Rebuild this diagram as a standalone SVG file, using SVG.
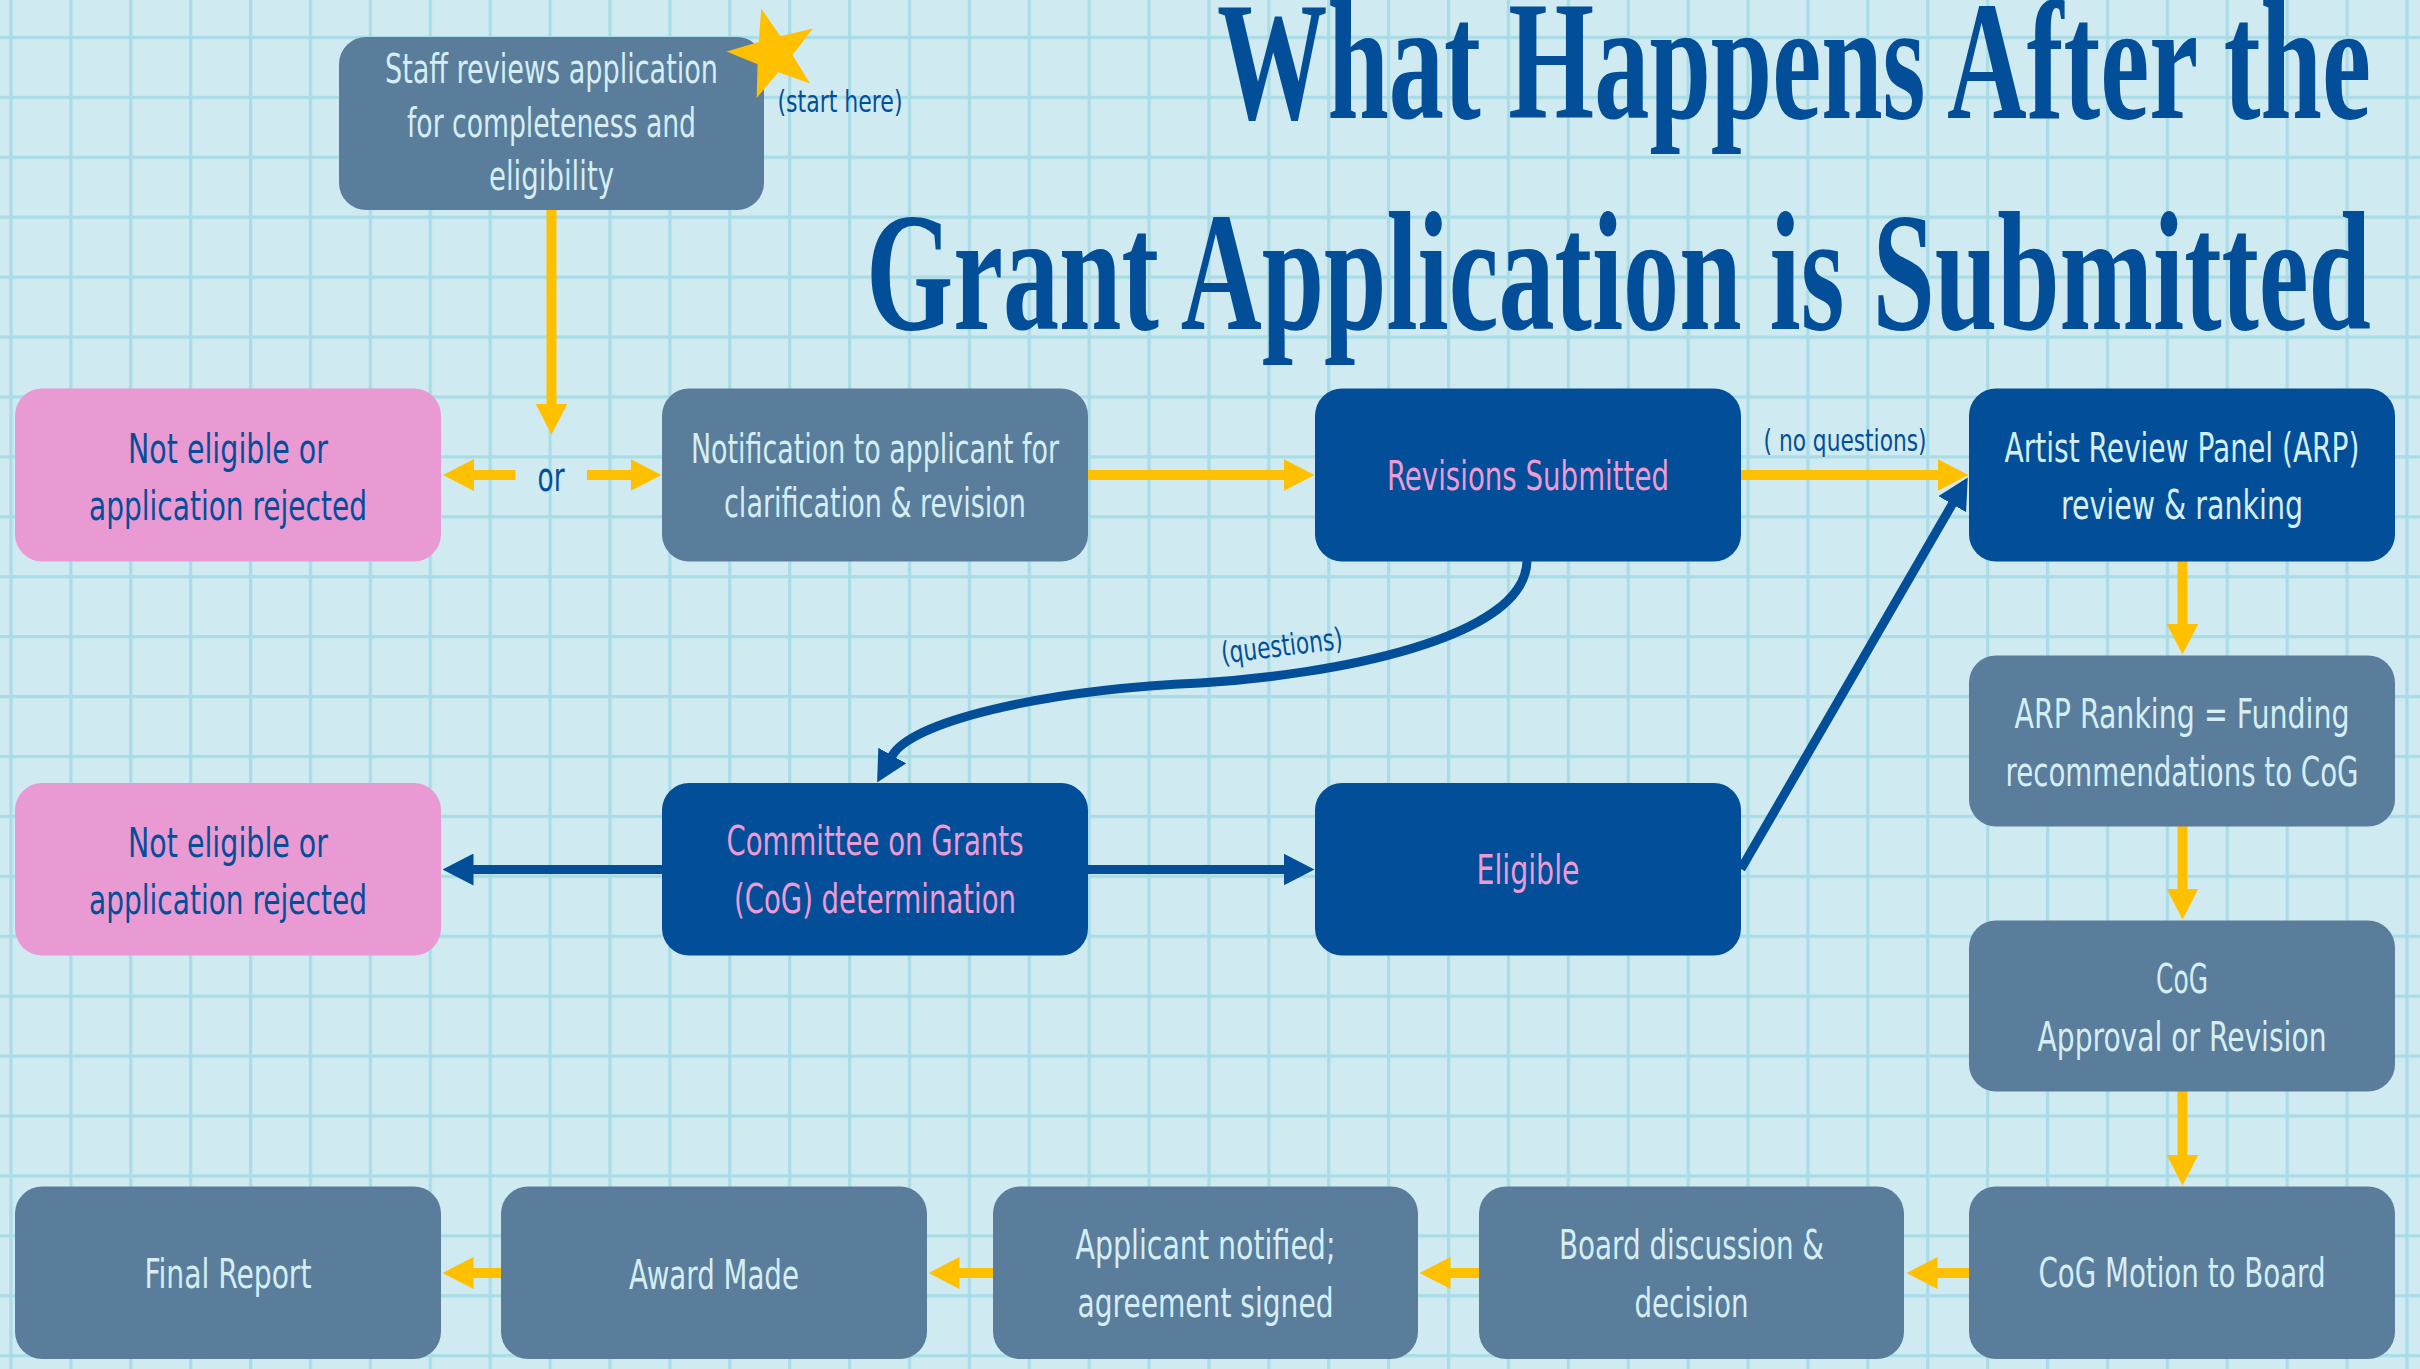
<svg xmlns="http://www.w3.org/2000/svg" width="2420" height="1369" viewBox="0 0 2420 1369">
<style>
.t{font-family:"Liberation Sans Narrow","DejaVu Sans Condensed","Liberation Sans",sans-serif;font-size:40px;text-anchor:middle}
.lt{fill:#d4eef3}
.dk{fill:#034e98}
.pk{fill:#ec9bd4}
.slate{fill:#5a7d9c}
.navy{fill:#034e98}
.pinkbox{fill:#e99ad2}
.lab{font-family:"Liberation Sans Narrow","DejaVu Sans Condensed","Liberation Sans",sans-serif;font-size:30px;fill:#034e98;text-anchor:middle}
.yl{stroke:#ffc000;stroke-width:10;fill:none}
.bl{stroke:#034e98;stroke-width:9;fill:none}
.title{font-family:"Liberation Serif","DejaVu Serif",serif;font-weight:bold;font-size:170px;fill:#034e98}
</style>
<defs>
<pattern id="grid" x="9.35" y="35.85" width="59.9" height="59.92" patternUnits="userSpaceOnUse">
<rect x="0" y="0" width="3.3" height="59.92" fill="#aadce7"/>
<rect x="0" y="0" width="59.9" height="3.3" fill="#aadce7"/>
</pattern>
<marker id="ay" viewBox="0 0 31 32" refX="0.5" refY="16" markerWidth="31" markerHeight="32" markerUnits="userSpaceOnUse" orient="auto"><path d="M0,0L31,16L0,32z" fill="#ffc000"/></marker>
<marker id="ab" viewBox="0 0 31 32" refX="0.5" refY="16" markerWidth="31" markerHeight="32" markerUnits="userSpaceOnUse" orient="auto"><path d="M0,0L31,16L0,32z" fill="#034e98"/></marker>
</defs>
<rect width="2420" height="1369" fill="#cfebf1"/>
<rect width="2420" height="1369" fill="url(#grid)"/>

<g id="title">
<text class="title" x="1217" y="118" textLength="1154" lengthAdjust="spacingAndGlyphs">What Happens After the</text>
<text class="title" x="866" y="329" textLength="1505" lengthAdjust="spacingAndGlyphs">Grant Application is Submitted</text>
</g>

<g id="connectors">
<line class="yl" x1="551.5" y1="210" x2="551.5" y2="404" marker-end="url(#ay)"/>
<line class="yl" x1="515.5" y1="475" x2="473.5" y2="475" marker-end="url(#ay)"/>
<line class="yl" x1="587" y1="475" x2="631" y2="475" marker-end="url(#ay)"/>
<line class="yl" x1="1088" y1="475" x2="1284" y2="475" marker-end="url(#ay)"/>
<line class="yl" x1="1741" y1="475" x2="1938" y2="475" marker-end="url(#ay)"/>
<line class="yl" x1="2182.5" y1="561" x2="2182.5" y2="624" marker-end="url(#ay)"/>
<line class="yl" x1="2182.5" y1="826" x2="2182.5" y2="889" marker-end="url(#ay)"/>
<line class="yl" x1="2182.5" y1="1091" x2="2182.5" y2="1155" marker-end="url(#ay)"/>
<line class="yl" x1="1969" y1="1273" x2="1937" y2="1273" marker-end="url(#ay)"/>
<line class="yl" x1="1479" y1="1273" x2="1450" y2="1273" marker-end="url(#ay)"/>
<line class="yl" x1="993" y1="1273" x2="959" y2="1273" marker-end="url(#ay)"/>
<line class="yl" x1="501" y1="1273" x2="473" y2="1273" marker-end="url(#ay)"/>
<path class="bl" d="M1527,561 C1525,640 1330,675 1200,683 C1040,690 911,722 892,756" marker-end="url(#ab)"/>
<line class="bl" x1="662" y1="869.5" x2="473" y2="869.5" marker-end="url(#ab)"/>
<line class="bl" x1="1088" y1="869.5" x2="1284" y2="869.5" marker-end="url(#ab)"/>
<line class="bl" x1="1741" y1="869" x2="1952.5" y2="503.8" marker-end="url(#ab)"/>
<text class="lab" x="551" y="491" style="font-size:40px" textLength="27" lengthAdjust="spacingAndGlyphs">or</text>
<text class="lab" x="1845" y="451" textLength="163" lengthAdjust="spacingAndGlyphs">( no questions)</text>
<text class="lab" x="1283" y="656" transform="rotate(-7 1283 656)" textLength="122" lengthAdjust="spacingAndGlyphs">(questions)</text>
</g>

<g id="staff">
<rect class="slate" x="339" y="37" width="425" height="173" rx="27"/>
<text class="t lt" x="551.5" y="83" textLength="333" lengthAdjust="spacingAndGlyphs">Staff reviews application</text>
<text class="t lt" x="551.5" y="137" textLength="289" lengthAdjust="spacingAndGlyphs">for completeness and</text>
<text class="t lt" x="551.5" y="190" textLength="125" lengthAdjust="spacingAndGlyphs">eligibility</text>
</g>
<g id="start">
<polygon fill="#ffc000" transform="translate(773.5,54) rotate(-15)" points="0,-47 11.17,-15.37 44.7,-14.52 18.07,5.87 27.63,38.02 0,19 -27.63,38.02 -18.07,5.87 -44.7,-14.52 -11.17,-15.37"/>
<text class="lab" x="840" y="112" textLength="125" lengthAdjust="spacingAndGlyphs">(start here)</text>
</g>

<g id="rejected1">
<rect class="pinkbox" x="15" y="388.5" width="426" height="173" rx="27"/>
<text class="t dk" x="228" y="463" textLength="200" lengthAdjust="spacingAndGlyphs">Not eligible or</text>
<text class="t dk" x="228" y="520" textLength="278" lengthAdjust="spacingAndGlyphs">application rejected</text>
</g>
<g id="notification">
<rect class="slate" x="662" y="388.5" width="426" height="173" rx="27"/>
<text class="t lt" x="875" y="463" textLength="368" lengthAdjust="spacingAndGlyphs">Notification to applicant for</text>
<text class="t lt" x="875" y="517" textLength="302" lengthAdjust="spacingAndGlyphs">clarification &amp; revision</text>
</g>
<g id="revisions">
<rect class="navy" x="1315" y="388.5" width="426" height="173" rx="27"/>
<text class="t pk" x="1528" y="490" textLength="282" lengthAdjust="spacingAndGlyphs">Revisions Submitted</text>
</g>
<g id="arp">
<rect class="navy" x="1969" y="388.5" width="426" height="173" rx="27"/>
<text class="t lt" x="2182" y="462" textLength="355" lengthAdjust="spacingAndGlyphs">Artist Review Panel (ARP)</text>
<text class="t lt" x="2182" y="519" textLength="242" lengthAdjust="spacingAndGlyphs">review &amp; ranking</text>
</g>
<g id="ranking">
<rect class="slate" x="1969" y="655.5" width="426" height="171" rx="27"/>
<text class="t lt" x="2182" y="728" textLength="335" lengthAdjust="spacingAndGlyphs">ARP Ranking = Funding</text>
<text class="t lt" x="2182" y="786" textLength="353" lengthAdjust="spacingAndGlyphs">recommendations to CoG</text>
</g>
<g id="approval">
<rect class="slate" x="1969" y="920.5" width="426" height="171" rx="27"/>
<text class="t lt" x="2182" y="993" textLength="52" lengthAdjust="spacingAndGlyphs">CoG</text>
<text class="t lt" x="2182" y="1051" textLength="289" lengthAdjust="spacingAndGlyphs">Approval or Revision</text>
</g>
<g id="rejected2">
<rect class="pinkbox" x="15" y="783" width="426" height="172.5" rx="27"/>
<text class="t dk" x="228" y="857" textLength="200" lengthAdjust="spacingAndGlyphs">Not eligible or</text>
<text class="t dk" x="228" y="914" textLength="278" lengthAdjust="spacingAndGlyphs">application rejected</text>
</g>
<g id="committee">
<rect class="navy" x="662" y="783" width="426" height="172.5" rx="27"/>
<text class="t pk" x="875" y="855" textLength="297" lengthAdjust="spacingAndGlyphs">Committee on Grants</text>
<text class="t pk" x="875" y="913" textLength="282" lengthAdjust="spacingAndGlyphs">(CoG) determination</text>
</g>
<g id="eligible">
<rect class="navy" x="1315" y="783" width="426" height="172.5" rx="27"/>
<text class="t pk" x="1528" y="884" textLength="103" lengthAdjust="spacingAndGlyphs">Eligible</text>
</g>
<g id="final">
<rect class="slate" x="15" y="1186.5" width="426" height="172.5" rx="27"/>
<text class="t lt" x="228" y="1288" textLength="167" lengthAdjust="spacingAndGlyphs">Final Report</text>
</g>
<g id="award">
<rect class="slate" x="501" y="1186.5" width="426" height="172.5" rx="27"/>
<text class="t lt" x="714" y="1289" textLength="170" lengthAdjust="spacingAndGlyphs">Award Made</text>
</g>
<g id="applicant">
<rect class="slate" x="993" y="1186.5" width="425" height="172.5" rx="27"/>
<text class="t lt" x="1205.5" y="1259" textLength="260" lengthAdjust="spacingAndGlyphs">Applicant notified;</text>
<text class="t lt" x="1205.5" y="1317" textLength="256" lengthAdjust="spacingAndGlyphs">agreement signed</text>
</g>
<g id="board">
<rect class="slate" x="1479" y="1186.5" width="425" height="172.5" rx="27"/>
<text class="t lt" x="1691.5" y="1259" textLength="265" lengthAdjust="spacingAndGlyphs">Board discussion &amp;</text>
<text class="t lt" x="1691.5" y="1317" textLength="114" lengthAdjust="spacingAndGlyphs">decision</text>
</g>
<g id="motion">
<rect class="slate" x="1969" y="1186.5" width="426" height="172.5" rx="27"/>
<text class="t lt" x="2182" y="1287" textLength="287" lengthAdjust="spacingAndGlyphs">CoG Motion to Board</text>
</g>
</svg>
